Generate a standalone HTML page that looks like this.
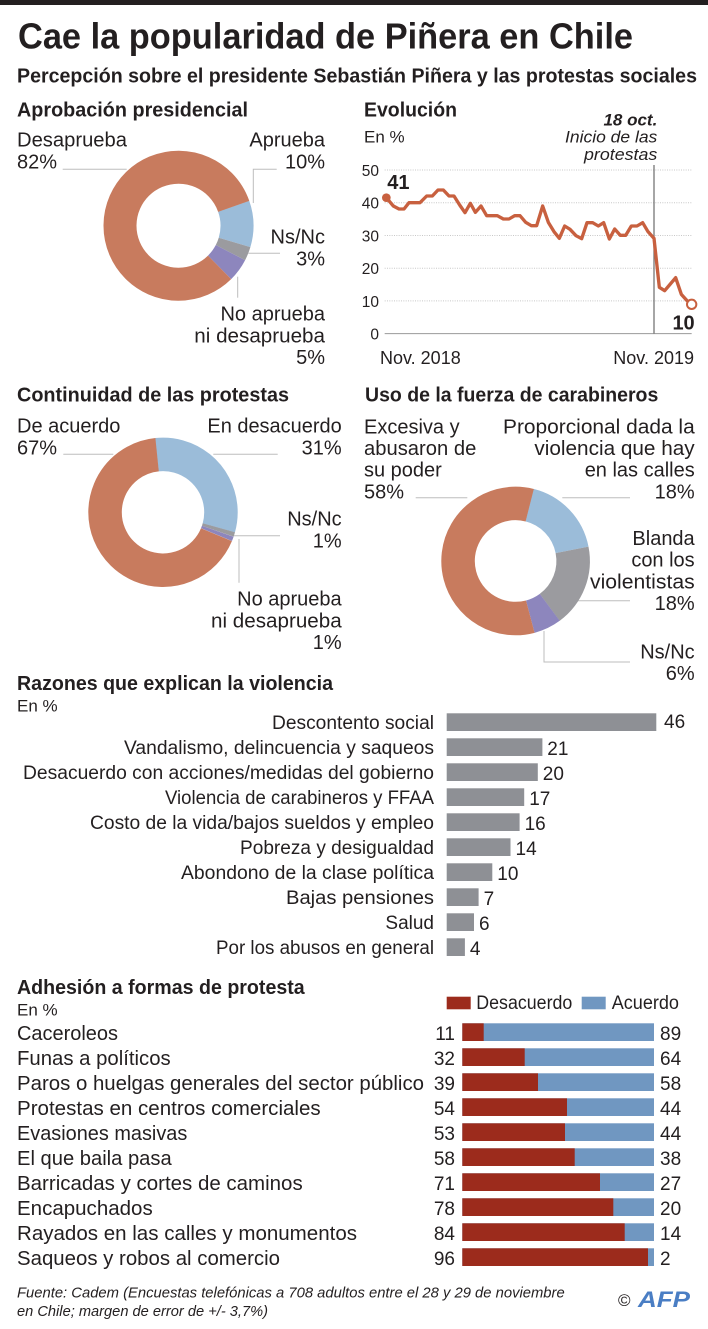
<!DOCTYPE html>
<html><head><meta charset="utf-8"><style>
html,body{margin:0;padding:0;background:#fff;}
svg{display:block;}
text{font-family:"Liberation Sans",sans-serif;fill:#231f20;}
.b{font-weight:bold;}
.l{font-size:20px;}
.m{font-size:19px;}
.s{font-size:17px;}
.ld{stroke:#bdbdbd;stroke-width:1;fill:none;}
</style></head><body>
<svg width="708" height="1329" viewBox="0 0 708 1329" xmlns="http://www.w3.org/2000/svg">
<rect x="0" y="0" width="708" height="5" fill="#231f20"/>
<text x="18" y="48.3" class="b" font-size="36" textLength="615" lengthAdjust="spacingAndGlyphs">Cae la popularidad de Piñera en Chile</text>
<text x="17" y="82.7" class="b" font-size="20" textLength="680" lengthAdjust="spacingAndGlyphs">Percepción sobre el presidente Sebastián Piñera y las protestas sociales</text>

<!-- Aprobación presidencial -->
<text x="17" y="116.7" class="b l" textLength="231" lengthAdjust="spacingAndGlyphs">Aprobación presidencial</text>
<line class="ld" x1="62.7" y1="169.3" x2="126.7" y2="169.3"/>
<polyline class="ld" points="276.7,169.3 253.3,169.3 253.3,203"/>
<line class="ld" x1="248.3" y1="253.3" x2="280" y2="253.3"/>
<line class="ld" x1="237.7" y1="276.7" x2="237.7" y2="297.7"/>
<g fill="none" stroke-width="33">
<circle cx="178.5" cy="225.7" r="58.5" stroke="#9bbcd9" stroke-dasharray="36.76 400" transform="rotate(-19.4 178.5 225.7)"/>
<circle cx="178.5" cy="225.7" r="58.5" stroke="#9b9b9f" stroke-dasharray="11.03 400" transform="rotate(16.6 178.5 225.7)"/>
<circle cx="178.5" cy="225.7" r="58.5" stroke="#8d86bd" stroke-dasharray="18.38 400" transform="rotate(27.4 178.5 225.7)"/>
<circle cx="178.5" cy="225.7" r="58.5" stroke="#c87b5e" stroke-dasharray="301.41 400" transform="rotate(45.4 178.5 225.7)"/>
</g>
<text x="17" y="146.7" class="l" textLength="110" lengthAdjust="spacingAndGlyphs">Desaprueba</text>
<text x="17" y="168.3" class="l">82%</text>
<text x="325" y="146.7" class="l" text-anchor="end">Aprueba</text>
<text x="325" y="168.3" class="l" text-anchor="end">10%</text>
<text x="325" y="243.3" class="l" text-anchor="end">Ns/Nc</text>
<text x="325" y="265.7" class="l" text-anchor="end">3%</text>
<text x="325" y="320.7" class="l" text-anchor="end">No aprueba</text>
<text x="325" y="342.3" class="l" text-anchor="end" textLength="130.7" lengthAdjust="spacingAndGlyphs">ni desaprueba</text>
<text x="325" y="364" class="l" text-anchor="end">5%</text>

<!-- Evolución -->
<text x="364" y="116.7" class="b l" textLength="93" lengthAdjust="spacingAndGlyphs">Evolución</text>
<text x="364" y="142.3" class="s">En %</text>
<text x="657.3" y="125.7" class="b s" font-style="italic" text-anchor="end">18 oct.</text>
<text x="657.3" y="142.3" class="s" font-style="italic" text-anchor="end" textLength="92.3" lengthAdjust="spacingAndGlyphs">Inicio de las</text>
<text x="657.3" y="160" class="s" font-style="italic" text-anchor="end" textLength="73.3" lengthAdjust="spacingAndGlyphs">protestas</text>
<svg x="354" y="90" width="354" height="290" viewBox="0 0 1062 870">
<g stroke="#c8c8c8" stroke-width="3" stroke-dasharray="3 4">
<line x1="92" y1="240" x2="1013" y2="240"/>
<line x1="92" y1="338.2" x2="1013" y2="338.2"/>
<line x1="92" y1="436.4" x2="1013" y2="436.4"/>
<line x1="92" y1="534.6" x2="1013" y2="534.6"/>
<line x1="92" y1="632.8" x2="1013" y2="632.8"/>
</g>
<line x1="92" y1="731" x2="1013" y2="731" stroke="#9a9a9a" stroke-width="3"/>
<line x1="900" y1="225" x2="900" y2="731" stroke="#7a7a7a" stroke-width="4"/>
<polyline fill="none" stroke="#c8603f" stroke-width="10" stroke-linejoin="round" stroke-linecap="round" points="97,323 118,348 135,357 150,357 165,338 198,338 218,318 235,318 252,300 268,300 285,318 300,318 317,345 333,368 349,340 364,367 381,348 398,377 430,377 448,387 465,387 482,377 498,377 515,397 532,407 548,407 566,348 583,397 600,425 616,445 632,408 648,418 666,437 683,446 699,398 716,398 733,408 749,398 766,447 782,417 799,436 815,436 832,408 849,408 866,398 882,425 900,445 916,592 932,602 949,582 965,563 982,613 999,632 1013,643"/>
<circle cx="97" cy="323" r="13" fill="#c8603f"/>
<circle cx="1013" cy="643" r="14" fill="#fff" stroke="#c8603f" stroke-width="6"/>
</svg>
<g font-size="15.5">
<text x="379" y="176" text-anchor="end">50</text>
<text x="379" y="208.7" text-anchor="end">40</text>
<text x="379" y="241.4" text-anchor="end">30</text>
<text x="379" y="274" text-anchor="end">20</text>
<text x="379" y="306.8" text-anchor="end">10</text>
<text x="379" y="339.7" text-anchor="end">0</text>
</g>
<text x="387.3" y="189" class="b l">41</text>
<text x="694.7" y="329.3" class="b l" text-anchor="end">10</text>
<text x="380" y="364" font-size="18">Nov. 2018</text>
<text x="694" y="364" font-size="18" text-anchor="end">Nov. 2019</text>

<!-- Continuidad -->
<text x="17" y="401.7" class="b l" textLength="272" lengthAdjust="spacingAndGlyphs">Continuidad de las protestas</text>
<line class="ld" x1="63.3" y1="454.3" x2="113.3" y2="454.3"/>
<line class="ld" x1="213.3" y1="454.3" x2="277.7" y2="454.3"/>
<line class="ld" x1="233.3" y1="535.7" x2="280" y2="535.7"/>
<line class="ld" x1="239" y1="539" x2="239" y2="582.7"/>
<g fill="none" stroke-width="33.5">
<circle cx="163" cy="512.3" r="57.95" stroke="#9bbcd9" stroke-dasharray="112.87 400" transform="rotate(-96.1 163 512.3)"/>
<circle cx="163" cy="512.3" r="57.95" stroke="#9b9b9f" stroke-dasharray="3.64 400" transform="rotate(15.5 163 512.3)"/>
<circle cx="163" cy="512.3" r="57.95" stroke="#8d86bd" stroke-dasharray="3.64 400" transform="rotate(19.1 163 512.3)"/>
<circle cx="163" cy="512.3" r="57.95" stroke="#c87b5e" stroke-dasharray="243.95 400" transform="rotate(22.7 163 512.3)"/>
</g>
<text x="17" y="432.7" class="l" textLength="103.4" lengthAdjust="spacingAndGlyphs">De acuerdo</text>
<text x="17" y="454.3" class="l">67%</text>
<text x="341.7" y="432.7" class="l" text-anchor="end" textLength="134.3" lengthAdjust="spacingAndGlyphs">En desacuerdo</text>
<text x="341.7" y="454.3" class="l" text-anchor="end">31%</text>
<text x="341.7" y="525.7" class="l" text-anchor="end">Ns/Nc</text>
<text x="341.7" y="547.3" class="l" text-anchor="end">1%</text>
<text x="341.7" y="605.7" class="l" text-anchor="end">No aprueba</text>
<text x="341.7" y="627.3" class="l" text-anchor="end" textLength="130.7" lengthAdjust="spacingAndGlyphs">ni desaprueba</text>
<text x="341.7" y="649" class="l" text-anchor="end">1%</text>

<!-- Uso de la fuerza -->
<text x="365" y="401.7" class="b l" textLength="293.3" lengthAdjust="spacingAndGlyphs">Uso de la fuerza de carabineros</text>
<line class="ld" x1="415.7" y1="497.7" x2="467.3" y2="497.7"/>
<line class="ld" x1="562.3" y1="497.7" x2="630" y2="497.7"/>
<line class="ld" x1="572.3" y1="600.7" x2="630" y2="600.7"/>
<polyline class="ld" points="544,631 544,662 630,662"/>
<g fill="none" stroke-width="33.5">
<circle cx="515.6" cy="561" r="57.55" stroke="#9bbcd9" stroke-dasharray="65.09 400" transform="rotate(-76 515.6 561)"/>
<circle cx="515.6" cy="561" r="57.55" stroke="#9b9b9f" stroke-dasharray="65.09 400" transform="rotate(-11.2 515.6 561)"/>
<circle cx="515.6" cy="561" r="57.55" stroke="#8d86bd" stroke-dasharray="21.70 400" transform="rotate(53.6 515.6 561)"/>
<circle cx="515.6" cy="561" r="57.55" stroke="#c87b5e" stroke-dasharray="209.73 400" transform="rotate(75.2 515.6 561)"/>
</g>
<text x="364" y="433.3" class="l">Excesiva y</text>
<text x="364" y="455" class="l" textLength="112.3" lengthAdjust="spacingAndGlyphs">abusaron de</text>
<text x="364" y="476.7" class="l">su poder</text>
<text x="364" y="498.3" class="l">58%</text>
<text x="694.7" y="433.3" class="l" text-anchor="end" textLength="191.7" lengthAdjust="spacingAndGlyphs">Proporcional dada la</text>
<text x="694.7" y="455" class="l" text-anchor="end" textLength="160.3" lengthAdjust="spacingAndGlyphs">violencia que hay</text>
<text x="694.7" y="476.7" class="l" text-anchor="end" textLength="110" lengthAdjust="spacingAndGlyphs">en las calles</text>
<text x="694.7" y="498.3" class="l" text-anchor="end">18%</text>
<text x="694.7" y="545" class="l" text-anchor="end">Blanda</text>
<text x="694.7" y="566.7" class="l" text-anchor="end">con los</text>
<text x="694.7" y="588.3" class="l" text-anchor="end" textLength="104.7" lengthAdjust="spacingAndGlyphs">violentistas</text>
<text x="694.7" y="610" class="l" text-anchor="end">18%</text>
<text x="694.7" y="658.3" class="l" text-anchor="end">Ns/Nc</text>
<text x="694.7" y="680" class="l" text-anchor="end">6%</text>

<!-- Razones -->
<text x="17" y="690" class="b l" textLength="316" lengthAdjust="spacingAndGlyphs">Razones que explican la violencia</text>
<text x="17" y="711.7" class="s">En %</text>
<g fill="#8e9095">
<rect x="446.7" y="713.3" width="209.6" height="17.7"/>
<rect x="446.7" y="738.3" width="95.7" height="17.7"/>
<rect x="446.7" y="763.3" width="91.1" height="17.7"/>
<rect x="446.7" y="788.3" width="77.5" height="17.7"/>
<rect x="446.7" y="813.3" width="72.9" height="17.7"/>
<rect x="446.7" y="838.3" width="63.8" height="17.7"/>
<rect x="446.7" y="863.3" width="45.6" height="17.7"/>
<rect x="446.7" y="888.3" width="31.9" height="17.7"/>
<rect x="446.7" y="913.3" width="27.3" height="17.7"/>
<rect x="446.7" y="938.3" width="18.2" height="17.7"/>
</g>
<g class="m" text-anchor="end" font-size="19">
<text x="434" y="728.8" textLength="162" lengthAdjust="spacingAndGlyphs">Descontento social</text>
<text x="434" y="753.8" textLength="310" lengthAdjust="spacingAndGlyphs">Vandalismo, delincuencia y saqueos</text>
<text x="434" y="778.8" textLength="411" lengthAdjust="spacingAndGlyphs">Desacuerdo con acciones/medidas del gobierno</text>
<text x="434" y="803.8" textLength="269" lengthAdjust="spacingAndGlyphs">Violencia de carabineros y FFAA</text>
<text x="434" y="828.8" textLength="344" lengthAdjust="spacingAndGlyphs">Costo de la vida/bajos sueldos y empleo</text>
<text x="434" y="853.8" textLength="194" lengthAdjust="spacingAndGlyphs">Pobreza y desigualdad</text>
<text x="434" y="878.8" textLength="253" lengthAdjust="spacingAndGlyphs">Abondono de la clase política</text>
<text x="434" y="903.8" textLength="148" lengthAdjust="spacingAndGlyphs">Bajas pensiones</text>
<text x="434" y="928.8">Salud</text>
<text x="434" y="953.8" textLength="218" lengthAdjust="spacingAndGlyphs">Por los abusos en general</text>
</g>
<g font-size="19">
<text x="664" y="728">46</text>
<text x="547.3" y="755">21</text>
<text x="542.8" y="780">20</text>
<text x="529.2" y="805">17</text>
<text x="524.6" y="830">16</text>
<text x="515.5" y="855">14</text>
<text x="497.3" y="880">10</text>
<text x="483.6" y="905">7</text>
<text x="479" y="930">6</text>
<text x="469.9" y="955">4</text>
</g>

<!-- Adhesión -->
<text x="17" y="994" class="b l" textLength="287.7" lengthAdjust="spacingAndGlyphs">Adhesión a formas de protesta</text>
<text x="17" y="1015.7" class="s">En %</text>
<rect x="446.7" y="996.7" width="24" height="12.6" fill="#9c2b1c"/>
<text x="476.3" y="1009" font-size="19" textLength="96" lengthAdjust="spacingAndGlyphs">Desacuerdo</text>
<rect x="581.7" y="996.7" width="24" height="12.6" fill="#7097c1"/>
<text x="611.7" y="1009" font-size="19" textLength="67.3" lengthAdjust="spacingAndGlyphs">Acuerdo</text>
<g>
<rect x="462.3" y="1023.3" width="191.7" height="17.7" fill="#7097c1"/>
<rect x="462.3" y="1048.3" width="191.7" height="17.7" fill="#7097c1"/>
<rect x="462.3" y="1073.3" width="191.7" height="17.7" fill="#7097c1"/>
<rect x="462.3" y="1098.3" width="191.7" height="17.7" fill="#7097c1"/>
<rect x="462.3" y="1123.3" width="191.7" height="17.7" fill="#7097c1"/>
<rect x="462.3" y="1148.3" width="191.7" height="17.7" fill="#7097c1"/>
<rect x="462.3" y="1173.3" width="191.7" height="17.7" fill="#7097c1"/>
<rect x="462.3" y="1198.3" width="191.7" height="17.7" fill="#7097c1"/>
<rect x="462.3" y="1223.3" width="191.7" height="17.7" fill="#7097c1"/>
<rect x="462.3" y="1248.3" width="191.7" height="17.7" fill="#7097c1"/>
</g>
<g fill="#9c2b1c">
<rect x="462.3" y="1023.3" width="21.4" height="17.7"/>
<rect x="462.3" y="1048.3" width="62.4" height="17.7"/>
<rect x="462.3" y="1073.3" width="75.7" height="17.7"/>
<rect x="462.3" y="1098.3" width="104.7" height="17.7"/>
<rect x="462.3" y="1123.3" width="102.7" height="17.7"/>
<rect x="462.3" y="1148.3" width="112.4" height="17.7"/>
<rect x="462.3" y="1173.3" width="137.7" height="17.7"/>
<rect x="462.3" y="1198.3" width="151" height="17.7"/>
<rect x="462.3" y="1223.3" width="162.4" height="17.7"/>
<rect x="462.3" y="1248.3" width="185.7" height="17.7"/>
</g>
<g font-size="20">
<text x="17" y="1040" textLength="101" lengthAdjust="spacingAndGlyphs">Caceroleos</text>
<text x="17" y="1065" textLength="153.7" lengthAdjust="spacingAndGlyphs">Funas a políticos</text>
<text x="17" y="1090" textLength="407" lengthAdjust="spacingAndGlyphs">Paros o huelgas generales del sector público</text>
<text x="17" y="1115" textLength="303.7" lengthAdjust="spacingAndGlyphs">Protestas en centros comerciales</text>
<text x="17" y="1140" textLength="170.3" lengthAdjust="spacingAndGlyphs">Evasiones masivas</text>
<text x="17" y="1165" textLength="154.7" lengthAdjust="spacingAndGlyphs">El que baila pasa</text>
<text x="17" y="1190" textLength="285.7" lengthAdjust="spacingAndGlyphs">Barricadas y cortes de caminos</text>
<text x="17" y="1215" textLength="135.7" lengthAdjust="spacingAndGlyphs">Encapuchados</text>
<text x="17" y="1240" textLength="340" lengthAdjust="spacingAndGlyphs">Rayados en las calles y monumentos</text>
<text x="17" y="1265" textLength="263" lengthAdjust="spacingAndGlyphs">Saqueos y robos al comercio</text>
</g>
<g font-size="19" text-anchor="end">
<text x="455" y="1040">11</text>
<text x="455" y="1065">32</text>
<text x="455" y="1090">39</text>
<text x="455" y="1115">54</text>
<text x="455" y="1140">53</text>
<text x="455" y="1165">58</text>
<text x="455" y="1190">71</text>
<text x="455" y="1215">78</text>
<text x="455" y="1240">84</text>
<text x="455" y="1265">96</text>
</g>
<g font-size="19">
<text x="660" y="1040">89</text>
<text x="660" y="1065">64</text>
<text x="660" y="1090">58</text>
<text x="660" y="1115">44</text>
<text x="660" y="1140">44</text>
<text x="660" y="1165">38</text>
<text x="660" y="1190">27</text>
<text x="660" y="1215">20</text>
<text x="660" y="1240">14</text>
<text x="660" y="1265">2</text>
</g>

<!-- Footer -->
<text x="17" y="1297.7" font-size="15" font-style="italic" textLength="547.7" lengthAdjust="spacingAndGlyphs">Fuente: Cadem (Encuestas telefónicas a 708 adultos entre el 28 y 29 de noviembre</text>
<text x="17" y="1316" font-size="15" font-style="italic" textLength="251" lengthAdjust="spacingAndGlyphs">en Chile; margen de error de +/- 3,7%)</text>
<text x="618" y="1306" font-size="17">©</text>
<text x="638" y="1307" font-size="22" font-weight="bold" font-style="italic" style="fill:#4a7ec4" textLength="52" lengthAdjust="spacingAndGlyphs">AFP</text>
</svg>
</body></html>
